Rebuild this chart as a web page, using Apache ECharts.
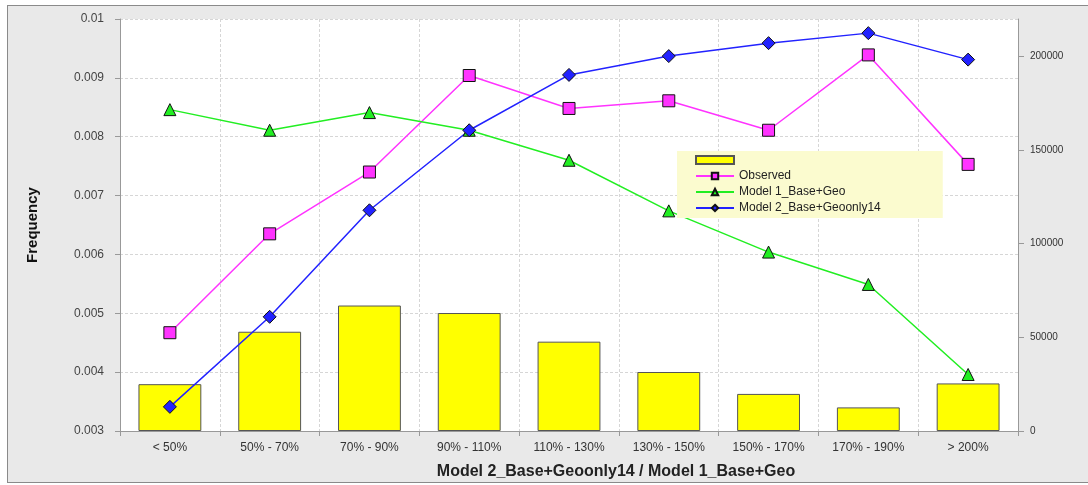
<!DOCTYPE html>
<html>
<head>
<meta charset="utf-8">
<script src="https://cdn.jsdelivr.net/npm/echarts@6/dist/echarts.min.js"></script>
<style>
html,body{margin:0;padding:0;background:#fff;}
#frame{position:absolute;left:7px;top:5px;width:1090px;height:476px;border:1.5px solid #8a8a8a;background:#e9e9e9;}
#main{position:absolute;left:0;top:0;width:1088px;height:485px;}
</style>
</head>
<body>
<div id="frame"></div>
<div id="main"></div>
<script>
const categories = ['< 50%', '50% - 70%', '70% - 90%', '90% - 110%', '110% - 130%', '130% - 150%', '150% - 170%', '170% - 190%', '> 200%'];
const observedCounts = [25000, 53000, 67000, 63000, 47700, 31500, 19800, 12600, 25400];
const observedFreq = [0.00467, 0.00635, 0.00740, 0.00904, 0.00848, 0.00861, 0.00811, 0.00939, 0.00753];
const model1Freq = [0.00846, 0.00811, 0.00841, 0.00811, 0.00760, 0.00674, 0.00604, 0.00549, 0.00396];
const model2Freq = [0.00341, 0.00494, 0.00675, 0.00811, 0.00905, 0.00937, 0.00959, 0.00976, 0.00931];
const leftTicks = [0.003, 0.004, 0.005, 0.006, 0.007, 0.008, 0.009, 0.01];
const rightTicks = [0, 50000, 100000, 150000, 200000];

const chart = echarts.init(document.getElementById('main'));
const lineSeries = (name, data, color, symbol, size) => ({
  name, type: 'line', yAxisIndex: 0, data,
  symbol, symbolSize: size,
  lineStyle: { color, width: 1.5 },
  itemStyle: { color, borderColor: '#111', borderWidth: 1 },
  z: 3
});
chart.setOption({
  animation: false,
  textStyle: { fontFamily: 'Liberation Sans, Arial, sans-serif' },
  grid: { left: 120, right: 70, top: 19, bottom: 53, show: true, backgroundColor: '#fff', borderWidth: 0 },
  legend: {
    orient: 'vertical', left: 677, top: 151,
    backgroundColor: '#fbfbcf', padding: [3, 62, 4, 18],
    itemWidth: 38, itemHeight: 8, itemGap: 4,
    textStyle: { fontSize: 12, color: '#222', fontFamily: 'Liberation Sans, Arial, sans-serif' },
    data: [
      { name: ' ', icon: 'rect' },
      { name: 'Observed' },
      { name: 'Model 1_Base+Geo' },
      { name: 'Model 2_Base+Geoonly14' }
    ]
  },
  xAxis: {
    type: 'category', data: categories, boundaryGap: true,
    name: 'Model 2_Base+Geoonly14 / Model 1_Base+Geo',
    nameLocation: 'middle', nameGap: 33,
    nameTextStyle: { fontSize: 16, fontWeight: 'bold', color: '#222', padding: [0, 0, 0, 94] },
    axisLine: { lineStyle: { color: '#999' } },
    axisTick: { show: true, length: 5, lineStyle: { color: '#999' } },
    axisLabel: { fontSize: 12, color: '#333', margin: 11 },
    splitLine: { show: true, lineStyle: { color: '#d6d6d6', type: [3, 2] } }
  },
  yAxis: [
    {
      type: 'value', min: 0.003, max: 0.01, interval: 0.001,
      name: 'Frequency', nameLocation: 'middle', nameGap: 80, nameRotate: 90,
      nameTextStyle: { fontSize: 15, fontWeight: 'bold', color: '#111' },
      axisLine: { show: true, lineStyle: { color: '#999' } },
      axisTick: { show: true, length: 5, lineStyle: { color: '#999' } },
      axisLabel: { fontSize: 12, color: '#444', margin: 16, formatter: v => String(+v.toFixed(3)) },
      splitLine: { show: true, lineStyle: { color: '#d6d6d6', type: [3, 2] } }
    },
    {
      type: 'value', min: 0, max: 220000, position: 'right',
      axisLine: { show: true, lineStyle: { color: '#999' } },
      axisTick: { show: true, length: 6, customValues: rightTicks, lineStyle: { color: '#999' } },
      axisLabel: { fontSize: 10, color: '#333', margin: 12, customValues: rightTicks, formatter: v => String(v) },
      splitLine: { show: false }
    }
  ],
  series: [
    {
      name: ' ', type: 'bar', yAxisIndex: 1, data: observedCounts,
      barWidth: '63%',
      itemStyle: { color: '#ffff00', borderColor: '#555', borderWidth: 1 },
      z: 2
    },
    lineSeries('Observed', observedFreq, '#ff33ff', 'rect', 12),
    lineSeries('Model 1_Base+Geo', model1Freq, '#22ee22', 'triangle', 12),
    lineSeries('Model 2_Base+Geoonly14', model2Freq, '#2222ff', 'diamond', 13)
  ]
});
</script>
</body>
</html>
